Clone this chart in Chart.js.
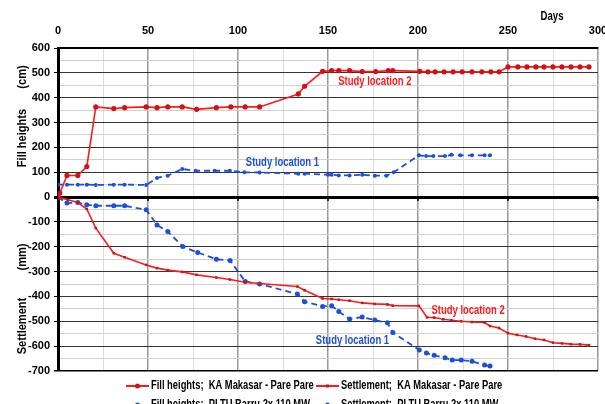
<!DOCTYPE html>
<html><head><meta charset="utf-8">
<script src="https://cdn.jsdelivr.net/npm/chart.js@4/dist/chart.umd.min.js"></script>
<style>
html,body{margin:0;padding:0;overflow:hidden;background:#fff;width:605px;height:404px}
#wrap{position:relative;width:605px;height:404px}
</style>
</head><body><div id="wrap"><canvas id="c" width="605" height="404"></canvas></div>
<script>
// ---------- data ----------
const redFillDays = [0,1,5,11,16,21,31,37,49,55,61,69,77,88,96,104,112,133.5,137,147,152,156,162,169,176.5,183.5,186,201,205.5,209.5,214.5,219.5,224.5,230,235.5,240.5,245,250,255.5,260.5,265.5,270,275,280,285,290,295];
const redFillVals = [0,16,87,87,123,363,356,360,363,360,363,363,353,360,363,363,363,415,446,506,509,509,509,505,505,509,509,506,504,504,504,504,504,504,504,504,504,524,524,524,524,524,524,524,524,524,524];

const redSettleDays = [0,5.5,11,16,21,31,37,49,55,61,69,77,88,95.5,104,112,133,137,147,152,156,162,169,176,183,186,200.5,205,209,214,218.5,224,230,237,240,245,250,255,260,265,270,275,280,285,290,295];
const redSettleVals = [0,-11,-22,-48,-125,-226,-242,-273,-286,-294,-301,-313,-324,-332,-343,-348,-360,-375,-408,-410,-413,-417,-426,-430,-432,-437,-438,-484,-485,-492,-496,-500,-503,-505,-519,-527,-548,-555,-561,-570,-575,-586,-589,-592,-593,-596];

const blueFillDays = [0,5,11,16,21,31,37,49,55,61,69,76.5,87,95.5,103.5,112,133.5,137,150,152,156,162,169,176,182.5,186.5,200.5,204.5,208.5,215,218.5,223.5,230,237,240];
const blueFillVals = [50,50,50,50,49,50,50,49,77,86,113,106,106,106,100,99,94,94,90,90,87,87,90,86,86,100,168,165,165,165,170,168,168,168,168];

const blueSettleDays = [0,5,11,16,21,31,37,49,55,61,69.3,77.6,88,95.6,104,112,133,137,147,152,156,162,169,176,183,186,200.7,204.7,209,215,219,224,230,237,240];
const blueSettleVals = [0,-24,-22,-31,-35,-35,-35,-51,-112,-139,-199,-223,-250,-255,-340,-350,-390,-421,-440,-437,-461,-491,-483,-495,-506,-545,-615,-628,-637,-647,-656,-656,-661,-676,-680];

const seriesLabels = [
  'Fill heights;  KA Makasar - Pare Pare',
  'Settlement;  KA Makasar - Pare Pare',
  'Fill heights;  PLTU Barru 2x 110 MW',
  'Settlement;  PLTU Barru 2x 110 MW'
];
const xTickLabels = [0,50,100,150,200,250,300];
const yTickLabels = [600,500,400,300,200,100,0,-100,-200,-300,-400,-500,-600,-700];
const xTitle = 'Days';
const yTitleTop = ['Fill heights', '(cm)'];
const yTitleBottom = ['Settlement', '(mm)'];
const notes = [
  {text:'Study location 2', day:176, val:465, color:'#ff1a1a'},
  {text:'Study location 1', day:124.7, val:138, color:'#1d4fd8'},
  {text:'Study location 2', day:227.8, val:-458, color:'#ff1a1a'},
  {text:'Study location 1', day:163.6, val:-579, color:'#1d4fd8'}
];

// ---------- styling ----------
const FONT = '"Liberation Sans", Arial, sans-serif';
const RED = '#ff1a1a', DRED = '#d0101a', BLUE = '#1d4fd8';

const pts = (xs, ys) => xs.map((x, i) => ({x, y: ys[i]}));

const datasets = [
  {label: seriesLabels[0], data: pts(redFillDays, redFillVals), borderColor: RED, backgroundColor: DRED,
   borderWidth: 1.6, pointStyle: 'circle', pointRadius: 2.6, pointBorderWidth: 0, mk: 'circle'},
  {label: seriesLabels[1], data: pts(redSettleDays, redSettleVals), borderColor: RED, backgroundColor: '#b81c22',
   borderWidth: 1.6, pointStyle: 'rect', pointRadius: 1.8, pointBorderWidth: 0, mk: 'rect'},
  {label: seriesLabels[2], data: pts(blueFillDays, blueFillVals), borderColor: BLUE, backgroundColor: BLUE,
   borderWidth: 1.8, borderDash: [6, 4], pointStyle: 'circle', pointRadius: 2, pointBorderWidth: 0, mk: 'circle'},
  {label: seriesLabels[3], data: pts(blueSettleDays, blueSettleVals), borderColor: BLUE, backgroundColor: BLUE,
   borderWidth: 1.8, borderDash: [6, 4], pointStyle: 'circle', pointRadius: 2.5, pointBorderWidth: 0, mk: 'circle'}
];
datasets.forEach(d => { d.tension = 0; d.fill = false; });

function condText(ctx, text, x, y, sx, align) {
  ctx.save();
  ctx.translate(x, y);
  ctx.scale(sx, 1);
  ctx.textAlign = align || 'center';
  ctx.fillText(text, 0, 0);
  ctx.restore();
}

const textPlugin = {
  id: 'texts',
  beforeDatasetsDraw(chart) {
    // small tick marks below the zero line, as on the reference
    const ctx = chart.ctx, xs = chart.scales.x, ys = chart.scales.y;
    const y0 = ys.getPixelForValue(0);
    ctx.save();
    ctx.strokeStyle = '#000'; ctx.lineWidth = 1.5;
    xTickLabels.forEach(v => {
      const px = xs.getPixelForValue(v);
      ctx.beginPath(); ctx.moveTo(px, y0); ctx.lineTo(px, y0 + 4); ctx.stroke();
    });
    ctx.restore();
  },
  afterDraw(chart) {
    const ctx = chart.ctx, xs = chart.scales.x, ys = chart.scales.y;
    ctx.save();
    ctx.textBaseline = 'middle';
    // annotations
    ctx.font = 'bold 12px ' + FONT;
    notes.forEach(n => {
      ctx.fillStyle = n.color;
      condText(ctx, n.text, xs.getPixelForValue(n.day), ys.getPixelForValue(n.val), 0.79);
    });
    // axis titles
    ctx.fillStyle = '#000';
    condText(ctx, xTitle, 552, 17, 0.8);
    ctx.font = 'bold 13px ' + FONT;
    const vt = (t, y) => { ctx.save(); ctx.translate(22, y); ctx.rotate(-Math.PI / 2); condText(ctx, t, 0, 0, 0.85); ctx.restore(); };
    vt(yTitleTop[0], 138); vt(yTitleTop[1], 77);
    vt(yTitleBottom[0], 326); vt(yTitleBottom[1], 257);
    // legend
    const cols = [126, 316];
    chart.data.datasets.forEach((d, i) => {
      const x0 = cols[i % 2], y = 386 + Math.floor(i / 2) * 19;
      ctx.save();
      ctx.strokeStyle = d.borderColor; ctx.lineWidth = 2;
      if (d.borderDash) ctx.setLineDash([6, 3]);
      ctx.beginPath(); ctx.moveTo(x0, y); ctx.lineTo(x0 + 23, y); ctx.stroke();
      ctx.setLineDash([]);
      ctx.fillStyle = d.backgroundColor;
      if (d.mk === 'circle') { ctx.beginPath(); ctx.arc(x0 + 11.5, y, 2.5, 0, Math.PI * 2); ctx.fill(); }
      else ctx.fillRect(x0 + 10, y - 1.5, 3, 3);
      ctx.restore();
      ctx.fillStyle = '#000';
      ctx.font = 'bold 12px ' + FONT;
      condText(ctx, d.label, x0 + 25, y, 0.78, 'left');
    });
    ctx.restore();
  }
};

new Chart(document.getElementById('c'), {
  type: 'line',
  data: {datasets},
  options: {
    responsive: false, animation: false, devicePixelRatio: 1,
    layout: {padding: {left: 0, right: 7, top: 0, bottom: 33}},
    scales: {
      x: {
        type: 'linear', position: 'top', min: 0, max: 300,
        afterFit(s) { s.height = 48; s.paddingLeft = 0; s.paddingRight = 0; },
        ticks: {stepSize: 25, autoSkip: false, maxRotation: 0, padding: 10, color: '#000',
          font: {family: FONT, size: 11, weight: 'bold'},
          callback: v => xTickLabels.includes(v) ? String(v) : ''},
        grid: {drawTicks: false,
          color: c => c.tick.value % 50 === 0 ? '#9a9a9a' : '#dedede',
          lineWidth: c => c.tick.value % 50 === 0 ? 1.5 : 1},
        border: {color: '#000', width: 1.5}
      },
      y: {
        type: 'linear', min: -700, max: 600,
        afterFit(s) { s.width = 58; s.paddingTop = 0; s.paddingBottom = 0; },
        ticks: {stepSize: 50, autoSkip: false, padding: 4, color: '#000',
          font: {family: FONT, size: 11, weight: 'bold'},
          callback: v => yTickLabels.includes(v) ? String(v) : ''},
        grid: {tickLength: 4,
          color: c => (c.tick.value === 0 || c.tick.value === -700 || c.tick.value === 600) ? '#000' : c.tick.value % 100 === 0 ? '#333' : '#d0d0d0',
          lineWidth: c => c.tick.value === 0 ? 3 : (c.tick.value === -700 ? 1.5 : 1),
          tickColor: c => c.tick.value % 100 === 0 ? '#000' : 'rgba(0,0,0,0)'},
        border: {color: '#000', width: 3}
      }
    },
    plugins: {
      tooltip: {enabled: false},
      legend: {display: false}
    }
  },
  plugins: [textPlugin]
});
</script>
</body></html>
